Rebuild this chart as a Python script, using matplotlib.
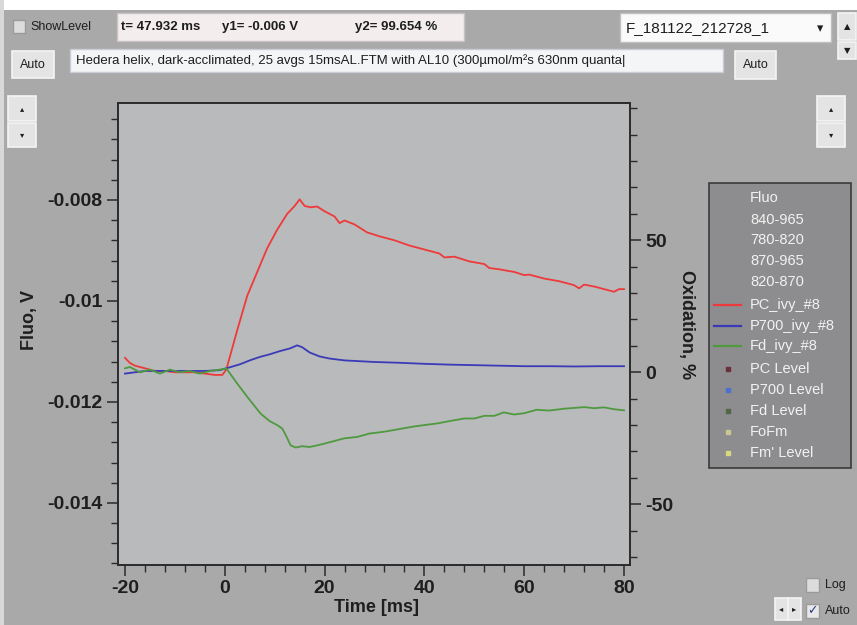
"""Recreate the oxidation kinetics screenshot (PC / P700 / Fd, ivy leaf)."""

import matplotlib
matplotlib.use("Agg")
import matplotlib.pyplot as plt
from matplotlib.patches import Rectangle
from matplotlib.ticker import FixedLocator, FixedFormatter, MultipleLocator

plt.rcParams["font.family"] = ["Liberation Sans", "DejaVu Sans"]
plt.rcParams["axes.unicode_minus"] = False

# ---- data (time in ms, oxidation in %) ----
t_pc = [-20, -19, -18, -16, -14, -12, -10, -8, -6, -4, -2, -0.5, 0.3, 2.5, 4.5,
        6.5, 8.5, 10.5, 12.5, 14, 15, 16, 17.2, 18.5, 20, 22, 23, 24, 26, 28.5, 31,
        34, 37, 40, 43, 44, 46, 49, 52, 53, 55, 58, 60, 61, 64, 67, 70, 71, 72, 74,
        76, 78, 79, 80]
pc = [5.5, 3.5, 2.5, 1.5, 0.5, 0.5, 0, 0, 0, -0.5, -1, -1, 1, 16, 29,
      38, 47, 54, 60, 63, 65.5, 63, 62.5, 62.8, 61, 59, 56.5, 57.5, 56, 53, 51.5,
      50, 48, 46.5, 45, 43.5, 43.8, 42, 41, 39.5, 39, 38, 36.8, 37, 35.5, 34.5, 33, 31.8, 33.2,
      32.5, 31.5, 30.5, 31.5, 31.5]

t_p700 = [-20, -16, -12, -8, -4, -1, 0.3, 3, 5, 7, 9, 11, 13, 14.5, 15.5, 17, 19,
          21, 24, 27, 30, 35, 40, 45, 50, 55, 60, 65, 70, 75, 80]
p700 = [-0.5, 0.5, 0.5, 0.5, 0.5, 0.8, 1.5, 3, 4.5, 5.8, 6.8, 8, 9, 10.2, 9.5, 7.5, 6,
        5.2, 4.5, 4.2, 3.9, 3.6, 3.2, 2.9, 2.7, 2.5, 2.3, 2.3, 2.2, 2.3, 2.3]

t_fd = [-20, -19, -17, -15, -13, -11, -9, -7, -5, -3, -1, 0.3, 2.5, 4.5, 7.2, 9,
        10.5, 11.5, 12, 13.2, 14.2, 15.5, 17, 18.5, 20, 22, 24, 26.5, 29, 32, 35,
        38, 40, 42.5, 45, 48, 50, 52, 54, 55.9, 58, 60, 62.5, 65, 68, 70, 72, 74,
        76, 78, 80]
fd = [1.5, 2, 0, 1, -0.5, 1, 0, 0.5, -0.5, 0.5, 1, 1.5, -4.3, -9.3, -15.7, -18.5,
      -20, -21.3, -23, -27.7, -28.5, -28, -28.3, -27.7, -27, -26, -25, -24.5, -23.2, -22.5, -21.5,
      -20.5, -20, -19.4, -18.5, -17.5, -17.5, -16.5, -16.5, -15.2, -16, -15.5, -14.2, -14.5,
      -13.8, -13.5, -13.2, -13.6, -13.3, -14, -14.4]

series_names = ["PC_ivy_#8", "P700_ivy_#8", "Fd_ivy_#8"]
series_colors = ["#ee3a3a", "#3a3ab8", "#4f9a3f"]

x_ticks = [-20, 0, 20, 40, 60, 80]
fluo_ticks = [-0.008, -0.01, -0.012, -0.014]
fluo_labels = ["-0.008", "-0.01", "-0.012", "-0.014"]
ox_ticks = [-50, 0, 50]
ox_labels = ["-50", "0", "50"]

legend_text = ["Fluo", "840-965", "780-820", "870-965", "820-870"]
level_names = ["PC Level", "P700 Level", "Fd Level", "FoFm", "Fm' Level"]
level_colors = ["#6a3040", "#4a70d0", "#506845", "#c8c890", "#d8d880"]

readout = ["t= 47.932 ms", "y1= -0.006 V", "y2= 99.654 %"]
file_name = "F_181122_212728_1"
comment = "Hedera helix, dark-acclimated, 25 avgs 15msAL.FTM with AL10 (300µmol/m²s 630nm quanta|"

BG = "#a9a9a9"
PLOT_BG = "#b9babb"
LEG_BG = "#8d8d8f"
INK = "#1e1e1e"

W, H = 857, 625
fig = plt.figure(figsize=(W / 100, H / 100), dpi=100)
fig.patch.set_facecolor(BG)

# ---- window chrome, drawn in pixel coordinates ----
ui = fig.add_axes([0, 0, 1, 1], zorder=0)
ui.set_xlim(0, W)
ui.set_ylim(H, 0)
ui.axis("off")


def box(x0, y0, x1, y1, fc, ec="#8a8a8a", lw=1.0):
    ui.add_patch(Rectangle((x0, y0), x1 - x0, y1 - y0, fc=fc, ec=ec, lw=lw))


def button(x0, y0, x1, y1, label=None, size=9, family=None):
    box(x0, y0, x1, y1, "#e4e4e4", ec="#f4f4f4", lw=1.2)
    if label:
        kw = {"family": family} if family else {}
        ui.text((x0 + x1) / 2, (y0 + y1) / 2, label, ha="center", va="center",
                fontsize=size, color=INK, **kw)


box(0, 0, W, 10, "white", ec="none")
box(0, 0, 4, H, "#d8d8d8", ec="none")

box(13, 20, 25, 33, "#dcdcdc", ec="#9a9a9a")
ui.text(30, 27, "ShowLevel", fontsize=9, va="center", color=INK)

box(117, 13, 464, 41, "#f3eded", ec="#c9c2c2")
for x, s in zip([121, 222, 355], readout):
    ui.text(x, 27, s, fontsize=9.5, va="center", color=INK, fontweight="bold")

box(620, 13, 831, 42, "#fafafa", ec="#c0c0c0")
ui.text(626, 28, file_name, fontsize=11, va="center", color=INK)
ui.text(820, 29, "▾", fontsize=9, ha="center", va="center", color=INK,
        family="DejaVu Sans")
button(838, 13, 856, 40, "▲", size=6, family="DejaVu Sans")
button(838, 42, 856, 59, "▼", size=6, family="DejaVu Sans")

button(12, 51, 54, 78, "Auto", size=9)
box(70, 49, 723, 72, "#f4f5f7", ec="#c8ccd4")
ui.text(76, 61, comment, fontsize=9.5, va="center", color=INK)
button(735, 51, 776, 79, "Auto", size=9)

for x0 in (8, 817):
    button(x0, 96, x0 + 28, 121, "▴", size=6, family="DejaVu Sans")
    button(x0, 123, x0 + 28, 147, "▾", size=6, family="DejaVu Sans")

# legend panel
box(709, 183, 851, 468, LEG_BG, ec="#3a3a3a", lw=1.2)
rows_y = [198, 220, 240, 261, 282, 305, 326, 346, 369, 390, 411, 432, 453]
labels = legend_text + series_names + level_names
for y, s in zip(rows_y, labels):
    ui.text(750, y, s, fontsize=10.5, va="center", color="#f2f2f2")
for y, c in zip(rows_y[5:8], series_colors):
    ui.plot([714, 741], [y, y], color=c, lw=1.6)
for y, c in zip(rows_y[8:], level_colors):
    ui.plot([728], [y], marker="s", ms=2.5, color=c, ls="none")

# bottom right controls
box(806, 578, 819, 592, "#dcdcdc", ec="#9a9a9a")
ui.text(825, 585, "Log", fontsize=9, va="center", color=INK)
box(806, 604, 819, 618, "#e8e8e8", ec="#9a9a9a")
ui.text(812.5, 611, "✓", fontsize=9, ha="center", va="center", color="#2a3a8a",
        family="DejaVu Sans", fontweight="bold")
ui.text(825, 611, "Auto", fontsize=9, va="center", color=INK)
button(775, 598, 788, 620, "◂", size=6, family="DejaVu Sans")
button(788, 598, 801, 620, "▸", size=6, family="DejaVu Sans")

# ---- the plot itself ----
L, R, T, B = 118, 630, 103, 565
ax = fig.add_axes([L / W, 1 - B / H, (R - L) / W, (B - T) / H], zorder=1)
ax.set_facecolor(PLOT_BG)
ax2 = ax.twinx()
ax2.set_zorder(2)
ax2.patch.set_visible(False)

ax.set_xlim(-21.4, 81.2)
ax.set_ylim(-0.01523, -0.00608)
ax2.set_ylim(-73, 102)

ax2.plot(t_pc, pc, color=series_colors[0], lw=1.3)
ax2.plot(t_p700, p700, color=series_colors[1], lw=1.3)
ax2.plot(t_fd, fd, color=series_colors[2], lw=1.3)

ax.xaxis.set_major_locator(FixedLocator(x_ticks))
ax.xaxis.set_major_formatter(FixedFormatter([str(v) for v in x_ticks]))
ax.xaxis.set_minor_locator(MultipleLocator(4))
ax.yaxis.set_major_locator(FixedLocator(fluo_ticks))
ax.yaxis.set_major_formatter(FixedFormatter(fluo_labels))
ax.yaxis.set_minor_locator(MultipleLocator(0.0004))
ax2.yaxis.set_major_locator(FixedLocator(ox_ticks))
ax2.yaxis.set_major_formatter(FixedFormatter(ox_labels))
ax2.yaxis.set_minor_locator(MultipleLocator(10))

for a in (ax, ax2):
    for sp in a.spines.values():
        sp.set_color("#2a2a2a")
        sp.set_linewidth(1.2)
    a.tick_params(which="major", length=8, width=1.1, color="#2a2a2a",
                  labelsize=14, labelcolor=INK, pad=3)
    a.tick_params(which="minor", length=5, width=1.0, color="#2a2a2a")
    for lab in a.get_xticklabels() + a.get_yticklabels():
        lab.set_fontweight("bold")

ax.set_xlabel("Time [ms]", fontsize=13, fontweight="bold", color=INK)
ax.xaxis.set_label_coords(0.504, -0.073)
ax.set_ylabel("Fluo, V", fontsize=13, fontweight="bold", color=INK)
ax.yaxis.set_label_coords(-0.156, 0.53)
ax2.set_ylabel("Oxidation, %", fontsize=13, fontweight="bold", color=INK,
               rotation=-90, va="center")
ax2.yaxis.set_label_coords(1.11, 0.52)

fig.savefig("out.png", dpi=100, facecolor=fig.get_facecolor())
